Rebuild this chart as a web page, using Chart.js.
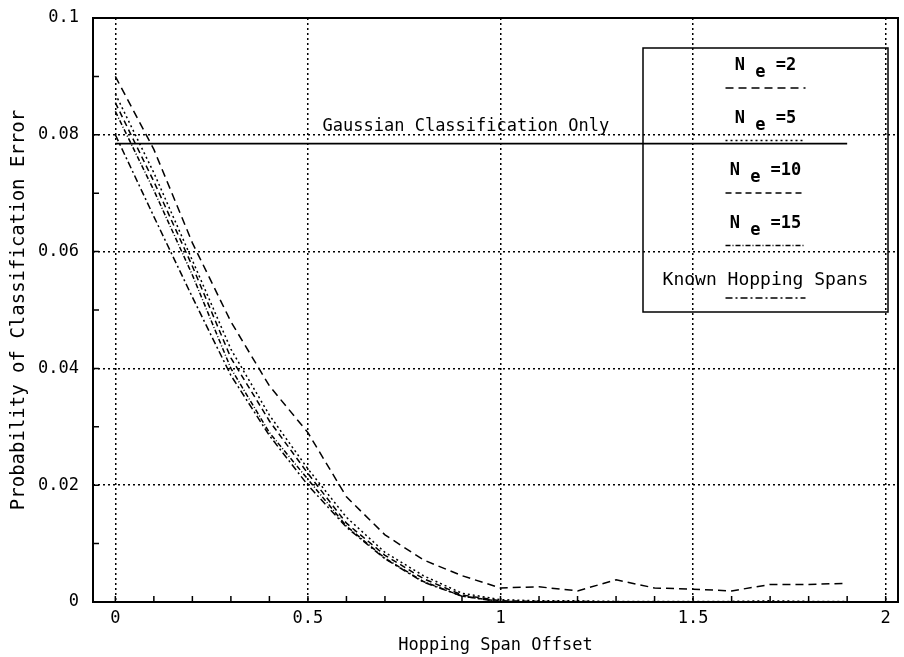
<!DOCTYPE html>
<html>
<head>
<meta charset="utf-8">
<script src="https://cdn.jsdelivr.net/npm/chart.js@4.4.0/dist/chart.umd.min.js"></script>
<style>
  html, body { margin: 0; padding: 0; background: #fff; }
  #wrap { width: 904px; height: 657px; }
</style>
</head>
<body>
<div id="wrap"><canvas id="chart" width="904" height="657"></canvas></div>
<script>
// hopping span offsets (x)
const offsets = [0, 0.1, 0.2, 0.3, 0.4, 0.5, 0.6, 0.7, 0.8, 0.9, 1.0, 1.1, 1.2, 1.3, 1.4, 1.5, 1.6, 1.7, 1.8, 1.9];

// probability of classification error per series
const ne2 = [0.0900, 0.0775, 0.0615, 0.0480, 0.0370, 0.0290, 0.0180, 0.0115, 0.0072, 0.0045, 0.0024, 0.0026, 0.0019, 0.0038, 0.0024, 0.0022, 0.0019, 0.0030, 0.0030, 0.0032];
const ne5 = [0.0870, 0.0735, 0.0585, 0.0433, 0.0320, 0.0228, 0.0145, 0.0085, 0.0045, 0.0015, 0.0004, 0.0002, 0.0002, 0.0001, 0.0001, 0.0001, 0.0001, 0.0002, 0.0001, 0.0001];
const ne10 = [0.0855, 0.0720, 0.0575, 0.0418, 0.0310, 0.0220, 0.0135, 0.0080, 0.0040, 0.0012, 0.0002, 0.0001, 0.0001, 0.0000, 0.0000, 0.0000, 0.0000, 0.0000, 0.0000, 0.0000];
const ne15 = [0.0840, 0.0705, 0.0560, 0.0400, 0.0290, 0.0210, 0.0130, 0.0075, 0.0035, 0.0010, 0.0001, 0.0000, 0.0000, 0.0000, 0.0000, 0.0000, 0.0000, 0.0000, 0.0000, 0.0000];
const known = [0.0800, 0.0660, 0.0522, 0.0388, 0.0285, 0.0200, 0.0128, 0.0074, 0.0034, 0.0010, 0.0000, 0.0000, 0.0000, 0.0000, 0.0000, 0.0000, 0.0000, 0.0000, 0.0000, 0.0000];
const gaussian = [0.0785, 0.0785];
const gaussianX = [0, 1.9];

// tick labels
const xTicks = [0, 0.5, 1, 1.5, 2];
const yTicks = [0, 0.02, 0.04, 0.06, 0.08, 0.1];
const xTickLabels = ['0', '0.5', '1', '1.5', '2'];
const yTickLabels = ['0', '0.02', '0.04', '0.06', '0.08', '0.1'];

const legendLabels = [
  { main: 'N', sub: 'e', rest: '=2' },
  { main: 'N', sub: 'e', rest: '=5' },
  { main: 'N', sub: 'e', rest: '=10' },
  { main: 'N', sub: 'e', rest: '=15' },
  { main: 'Known Hopping Spans', sub: '', rest: '' },
];

const FONT = '"DejaVu Sans Mono", "Liberation Mono", monospace';

const toPoints = (xs, ys) => xs.map((x, i) => ({ x: x, y: ys[i] }));

const styles = [
  [8, 5],
  [2, 3],
  [6, 4],
  [5, 2, 1, 2],
  [7, 3, 2, 3],
];

const series = [ne2, ne5, ne10, ne15, known];

const datasets = series.map((ys, i) => ({
  label: legendLabels[i].main + legendLabels[i].sub + legendLabels[i].rest,
  data: toPoints(offsets, ys),
  borderColor: '#000',
  borderWidth: 1.5,
  borderDash: styles[i],
  pointRadius: 0,
  showLine: true,
  fill: false,
}));

datasets.push({
  label: 'Gaussian Classification Only',
  data: toPoints(gaussianX, gaussian),
  borderColor: '#000',
  borderWidth: 1.8,
  pointRadius: 0,
  showLine: true,
  fill: false,
});

const whiteBg = {
  id: 'whiteBg',
  beforeDraw(chart) {
    const ctx = chart.ctx;
    ctx.save();
    ctx.fillStyle = '#fff';
    ctx.fillRect(0, 0, chart.width, chart.height);
    ctx.restore();
  },
};

// frame, minor ticks, gaussian label and the boxed legend
const decorations = {
  id: 'decorations',
  afterDatasetsDraw(chart) {
    const ctx = chart.ctx;
    const a = chart.chartArea;
    const xs = chart.scales.x;
    const ys = chart.scales.y;
    ctx.save();
    ctx.strokeStyle = '#000';
    ctx.fillStyle = '#000';
    ctx.setLineDash([]);

    // minor ticks
    ctx.lineWidth = 1.5;
    ctx.beginPath();
    for (let i = 0; i <= 10; i++) {
      const py = ys.getPixelForValue(i / 100);
      ctx.moveTo(a.left, py);
      ctx.lineTo(a.left + 6, py);
    }
    for (let i = 0; i <= 20; i++) {
      const px = xs.getPixelForValue(i / 10);
      ctx.moveTo(px, a.bottom);
      ctx.lineTo(px, a.bottom - 6);
    }
    ctx.stroke();

    // frame
    ctx.lineWidth = 2;
    ctx.strokeRect(a.left, a.top, a.right - a.left, a.bottom - a.top);

    // gaussian label
    ctx.font = '17px ' + FONT;
    ctx.textAlign = 'center';
    ctx.textBaseline = 'alphabetic';
    ctx.fillText('Gaussian Classification Only', xs.getPixelForValue(0.91), ys.getPixelForValue(gaussian[0]) - 13);

    // legend box
    const bx = 643, by = 48, bw = 245, bh = 264;
    ctx.lineWidth = 1.5;
    ctx.strokeRect(bx, by, bw, bh);
    const cx = bx + bw / 2;
    const rowH = 52.5;
    legendLabels.forEach((l, i) => {
      const ty = by + 18 + i * rowH;
      ctx.textBaseline = 'middle';
      if (l.sub) {
        ctx.font = 'bold 17px ' + FONT;
        const wMain = ctx.measureText(l.main + ' ').width;
        const wSub = ctx.measureText(l.sub + ' ').width;
        const wRest = ctx.measureText(l.rest).width;
        let x0 = cx - (wMain + wSub + wRest) / 2;
        ctx.textAlign = 'left';
        ctx.fillText(l.main, x0, ty);
        ctx.fillText(l.sub, x0 + wMain, ty + 7);
        ctx.fillText(l.rest, x0 + wMain + wSub, ty);
      } else {
        ctx.font = '18px ' + FONT;
        ctx.textAlign = 'center';
        ctx.fillText(l.main, cx, ty + 4);
      }
      const ly = ty + 22;
      ctx.lineWidth = 1.5;
      ctx.setLineDash(styles[i]);
      ctx.beginPath();
      ctx.moveTo(cx - 40, ly);
      ctx.lineTo(cx + 40, ly);
      ctx.stroke();
      ctx.setLineDash([]);
    });
    ctx.restore();
  },
};

new Chart(document.getElementById('chart').getContext('2d'), {
  type: 'scatter',
  data: { datasets: datasets },
  options: {
    responsive: false,
    animation: false,
    layout: { padding: { top: 18, right: 6, left: 0, bottom: 0 } },
    plugins: {
      legend: { display: false },
      tooltip: { enabled: false },
    },
    scales: {
      x: {
        type: 'linear',
        min: -0.058,
        max: 2.032,
        afterFit: (s) => { s.height = 55; s.paddingLeft = 0; s.paddingRight = 0; },
        afterBuildTicks: (s) => { s.ticks = xTicks.map((v) => ({ value: v })); },
        ticks: {
          color: '#000',
          font: { family: FONT, size: 17 },
          padding: 6,
          maxRotation: 0,
          callback: (v) => xTickLabels[xTicks.indexOf(v)],
        },
        grid: {
          color: '#000',
          lineWidth: 1.5,
          drawTicks: false,
        },
        border: { display: false, dash: [2, 3] },
        title: {
          display: true,
          text: 'Hopping Span Offset',
          color: '#000',
          font: { family: FONT, size: 17 },
          padding: { top: 4, bottom: 1 },
        },
      },
      y: {
        type: 'linear',
        min: 0,
        max: 0.1,
        afterFit: (s) => { s.width = 93; s.paddingTop = 0; s.paddingBottom = 0; },
        afterBuildTicks: (s) => { s.ticks = yTicks.map((v) => ({ value: v })); },
        ticks: {
          color: '#000',
          font: { family: FONT, size: 17 },
          padding: 14,
          callback: (v) => yTickLabels[yTicks.indexOf(v)],
        },
        grid: {
          color: '#000',
          lineWidth: 1.5,
          drawTicks: false,
        },
        border: { display: false, dash: [2, 3] },
        title: {
          display: true,
          text: 'Probability of Classification Error',
          color: '#000',
          font: { family: FONT, size: 19 },
          padding: { top: 8, bottom: 4 },
        },
      },
    },
  },
  plugins: [whiteBg, decorations],
});
</script>
</body>
</html>
